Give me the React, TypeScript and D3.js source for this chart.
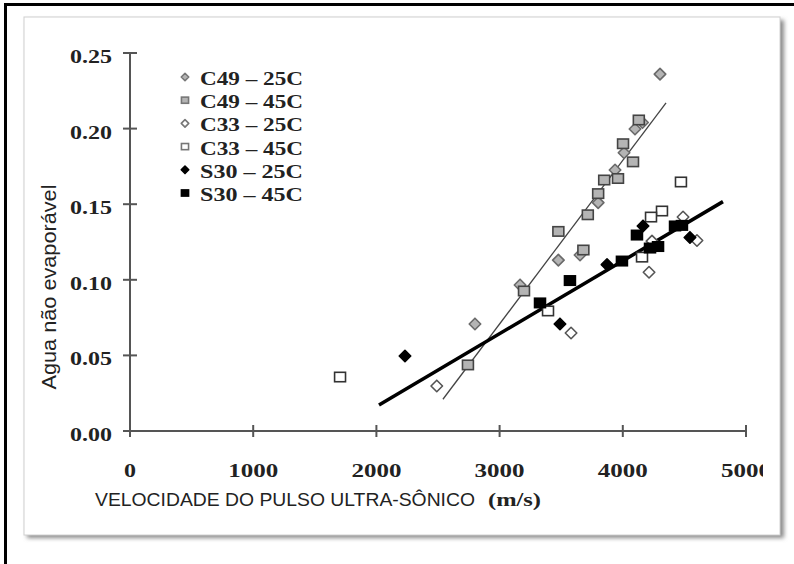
import React from "react";
import * as d3 from "d3";

const seriesNames = ["C49 – 25C", "C49 – 45C", "C33 – 25C", "C33 – 45C", "S30 – 25C", "S30 – 45C"];

const c49_25X = [4302, 4160, 4099, 4010, 3937, 3800, 3653, 3477, 3166, 2800];
const c49_25Y = [0.236, 0.204, 0.1997, 0.184, 0.1726, 0.151, 0.1164, 0.113, 0.0966, 0.0708];

const c49_45X = [4130, 4002, 4083, 3961, 3849, 3800, 3716, 3477, 3680, 3198, 2743];
const c49_45Y = [0.2057, 0.19, 0.178, 0.167, 0.166, 0.157, 0.143, 0.132, 0.1197, 0.0926, 0.0437];

const c33_25X = [2490, 3580, 4213, 4237, 4489, 4602];
const c33_25Y = [0.0298, 0.0648, 0.105, 0.1256, 0.1415, 0.126];

const c33_45X = [1705, 4472, 4318, 4229, 4156, 3393];
const c33_45Y = [0.0357, 0.1647, 0.1455, 0.1415, 0.115, 0.0794];

const s30_25X = [2232, 3490, 3872, 4164, 4545];
const s30_25Y = [0.0496, 0.0708, 0.11, 0.1356, 0.128];

const s30_45X = [3328, 3571, 3993, 4115, 4221, 4286, 4424, 4480];
const s30_45Y = [0.0847, 0.0995, 0.1124, 0.1296, 0.121, 0.122, 0.1356, 0.136];

const fitC49X = [2540, 4351];
const fitC49Y = [0.021, 0.217];
const fitS30X = [2021, 4813];
const fitS30Y = [0.0172, 0.1517];

const xTicks = [0, 1000, 2000, 3000, 4000, 5000];
const yTicks = [0, 0.05, 0.1, 0.15, 0.2, 0.25];

const xTitle = "VELOCIDADE DO PULSO ULTRA-SÔNICO";
const xUnit = "(m/s)";
const yTitle = "Agua não evaporável";

type Style = { shape: "diamond" | "square"; fill: string; stroke: string };
const styles: Style[] = [
  { shape: "diamond", fill: "#b4b4b4", stroke: "#6a6a6a" },
  { shape: "square", fill: "#b4b4b4", stroke: "#444" },
  { shape: "diamond", fill: "#ffffff", stroke: "#555" },
  { shape: "square", fill: "#ffffff", stroke: "#333" },
  { shape: "diamond", fill: "#000", stroke: "#000" },
  { shape: "square", fill: "#000", stroke: "#000" },
];

const seriesX = [c49_25X, c49_45X, c33_25X, c33_45X, s30_25X, s30_45X];
const seriesY = [c49_25Y, c49_45Y, c33_25Y, c33_45Y, s30_25Y, s30_45Y];

function Marker({ cx, cy, st, size }: { cx: number; cy: number; st: Style; size: number }) {
  if (st.shape === "diamond") {
    const h = size / 2;
    const d = `M${cx},${cy - h}L${cx + h},${cy}L${cx},${cy + h}L${cx - h},${cy}Z`;
    return <path d={d} fill={st.fill} stroke={st.stroke} strokeWidth={1.6} strokeLinejoin="round" />;
  }
  const w = size * 0.95;
  const hh = size * 0.82;
  return (
    <rect x={cx - w / 2} y={cy - hh / 2} width={w} height={hh} fill={st.fill} stroke={st.stroke} strokeWidth={1.6} />
  );
}

export default function App() {
  const x = d3.scaleLinear().domain([0, 5000]).range([130, 746]);
  const y = d3.scaleLinear().domain([0, 0.25]).range([431, 53]);
  const fmt = d3.format(".2f");
  const line = d3
    .line<[number, number]>()
    .x((d) => x(d[0]))
    .y((d) => y(d[1]));
  const fitA = line(fitC49X.map((v, i) => [v, fitC49Y[i]] as [number, number]));
  const fitB = line(fitS30X.map((v, i) => [v, fitS30Y[i]] as [number, number]));

  const serif = "'Liberation Serif', 'Times New Roman', serif";
  const sans = "'Liberation Sans', Arial, sans-serif";

  return (
    <svg
      width={794}
      height={564}
      style={{ position: "absolute", left: 0, top: 0, background: "#fff" }}
    >
      <defs>
        <filter id="sh" x="-5%" y="-5%" width="110%" height="110%">
          <feGaussianBlur stdDeviation="2" />
        </filter>
        <clipPath id="clipR">
          <rect x={0} y={0} width={763} height={564} />
        </clipPath>
      </defs>
      <rect x={0} y={0} width={794} height={564} fill="#fff" />
      {/* outer border */}
      <line x1={5.5} y1={4.5} x2={794} y2={4.5} stroke="#000" strokeWidth={3} />
      <line x1={5.5} y1={3} x2={5.5} y2={564} stroke="#000" strokeWidth={3} />
      {/* panel shadow */}
      <rect x={27} y={20} width={757} height={518} fill="#8a8a8a" filter="url(#sh)" />
      <rect x={24} y={17} width={756} height={518} fill="#fff" stroke="#d0d0d0" strokeWidth={1} />

      {/* axes */}
      <line x1={x(0)} y1={y(0)} x2={x(5000)} y2={y(0)} stroke="#555" strokeWidth={2} />
      <line x1={x(0)} y1={y(0)} x2={x(0)} y2={y(0.25)} stroke="#555" strokeWidth={2} />
      {xTicks.map((t) => (
        <line key={"xt" + t} x1={x(t)} x2={x(t)} y1={y(0) - 6} y2={y(0) + 6} stroke="#555" strokeWidth={2} />
      ))}
      {yTicks.map((t) => (
        <line key={"yt" + t} x1={x(0) - 7} x2={x(0) + 7} y1={y(t)} y2={y(t)} stroke="#555" strokeWidth={2} />
      ))}
      <g clipPath="url(#clipR)">
        {xTicks.map((t) => (
          <text
            key={"xl" + t}
            x={x(t)}
            y={477}
            textAnchor="middle"
            fontFamily={serif}
            fontWeight="bold"
            fontSize={18}
            fill="#222"
            textLength={t === 0 ? 12 : 50}
            lengthAdjust="spacingAndGlyphs"
          >
            {String(t)}
          </text>
        ))}
      </g>
      {yTicks.map((t) => (
        <text
          key={"yl" + t}
          x={112}
          y={y(t) + 10}
          textAnchor="end"
          fontFamily={serif}
          fontWeight="bold"
          fontSize={18}
          fill="#222"
          textLength={42}
          lengthAdjust="spacingAndGlyphs"
        >
          {fmt(t)}
        </text>
      ))}

      {/* axis titles */}
      <text
        x={95}
        y={506}
        fontFamily={sans}
        fontSize={18}
        fill="#222"
        textLength={380}
        lengthAdjust="spacingAndGlyphs"
      >
        {xTitle}
      </text>
      <text
        x={488}
        y={506}
        fontFamily={serif}
        fontWeight="bold"
        fontSize={19}
        fill="#222"
        textLength={53}
        lengthAdjust="spacingAndGlyphs"
      >
        {xUnit}
      </text>
      <text
        transform={`translate(56,287) rotate(-90)`}
        textAnchor="middle"
        fontFamily={sans}
        fontSize={20}
        fill="#222"
        textLength={205}
        lengthAdjust="spacingAndGlyphs"
      >
        {yTitle}
      </text>

      {/* trend lines */}
      <path d={fitA || ""} fill="none" stroke="#444" strokeWidth={1.3} />
      <path d={fitB || ""} fill="none" stroke="#000" strokeWidth={3.5} />

      {/* points */}
      {seriesX.map((xs, si) =>
        xs.map((xv, i) => (
          <Marker key={`p${si}-${i}`} cx={x(xv)} cy={y(seriesY[si][i])} st={styles[si]} size={11.5} />
        ))
      )}

      {/* legend */}
      {seriesNames.map((name, i) => {
        const cy = 78 + i * 23.2;
        return (
          <g key={"lg" + i}>
            <Marker cx={185} cy={cy - 1} st={{ ...styles[i], stroke: i >= 4 ? "#000" : "#777" }} size={7.5} />
            <text
              x={200}
              y={cy + 7}
              fontFamily={serif}
              fontWeight="bold"
              fontSize={19}
              fill="#222"
              textLength={103}
              lengthAdjust="spacingAndGlyphs"
            >
              {name}
            </text>
          </g>
        );
      })}
    </svg>
  );
}
